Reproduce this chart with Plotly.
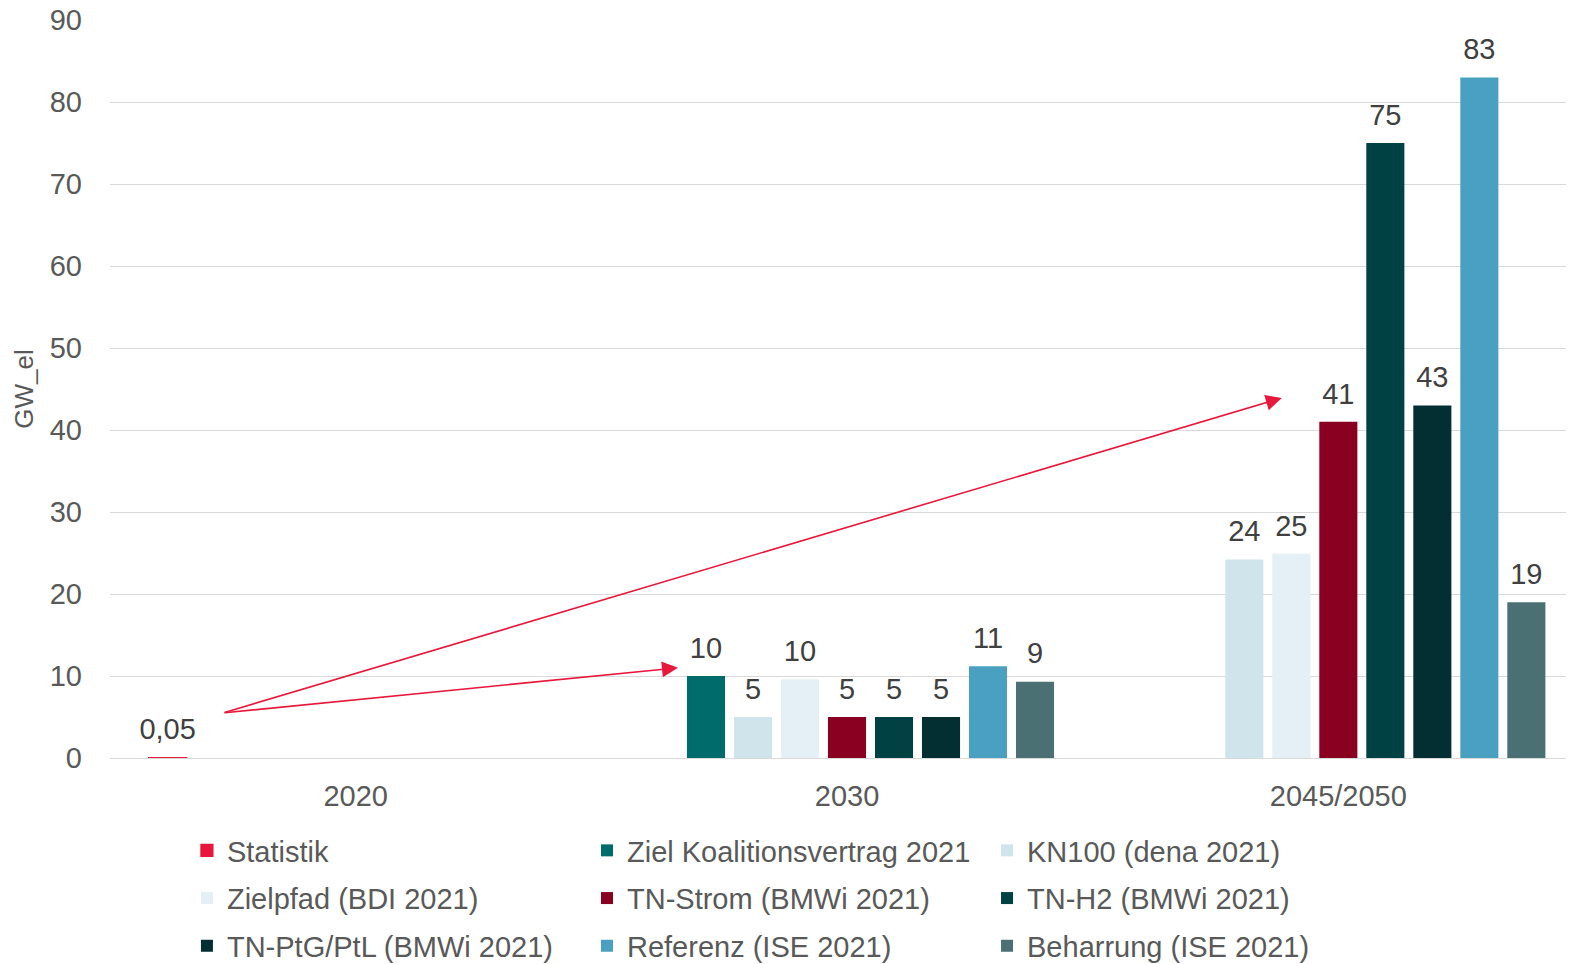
import plotly.graph_objects as go

categories = ["2020", "2030", "2045/2050"]

series_names = [
    "Statistik",
    "Ziel Koalitionsvertrag 2021",
    "KN100 (dena 2021)",
    "Zielpfad (BDI 2021)",
    "TN-Strom (BMWi 2021)",
    "TN-H2 (BMWi 2021)",
    "TN-PtG/PtL (BMWi 2021)",
    "Referenz (ISE 2021)",
    "Beharrung (ISE 2021)",
]

statistik = [0.05, None, None]
ziel_koalition = [None, 10, None]
kn100 = [None, 5, 24.2]
zielpfad = [None, 9.6, 24.9]
tn_strom = [None, 5, 41]
tn_h2 = [None, 5, 75]
tn_ptg = [None, 5, 43]
referenz = [None, 11.2, 83]
beharrung = [None, 9.3, 19]

labels_statistik = ["0,05", "", ""]
labels_ziel = ["", "10", ""]
labels_kn100 = ["", "5", "24"]
labels_zielpfad = ["", "10", "25"]
labels_strom = ["", "5", "41"]
labels_h2 = ["", "5", "75"]
labels_ptg = ["", "5", "43"]
labels_referenz = ["", "11", "83"]
labels_beharrung = ["", "9", "19"]

values = [statistik, ziel_koalition, kn100, zielpfad, tn_strom, tn_h2, tn_ptg, referenz, beharrung]
labels = [labels_statistik, labels_ziel, labels_kn100, labels_zielpfad, labels_strom,
          labels_h2, labels_ptg, labels_referenz, labels_beharrung]
colors = ["#e8173c", "#006b6b", "#cfe5eb", "#e4f0f5", "#8a0020",
          "#004143", "#032e32", "#4aa0c0", "#4a7074"]
legend_of = ["legend", "legend2", "legend3", "legend", "legend2", "legend3",
             "legend", "legend2", "legend3"]

FONT = "Liberation Sans, Arial, sans-serif"
GREY = "#595959"
FS = 29
BARGAP = 0.139

fig = go.Figure()
for i, name in enumerate(series_names):
    fig.add_trace(go.Bar(
        x=categories, y=values[i], name=name,
        offsetgroup=str(i),
        marker=dict(color=colors[i],
                    line=dict(width=1.2 if i == 0 else 0, color=colors[i])),
        legend=legend_of[i], legendgroup=name,
    ))
# value labels (scatter text aligned with the bar slots)
for i, name in enumerate(series_names):
    fig.add_trace(go.Scatter(
        x=categories, y=values[i], text=labels[i],
        offsetgroup=str(i), mode="markers+text", textposition="top center",
        marker=dict(size=16, opacity=0), cliponaxis=False,
        textfont=dict(size=FS, color="#404040", family=FONT),
        showlegend=False, hoverinfo="skip", legend=legend_of[i],
    ))

# arrows: tail near 2020, heads into 2030 and 2045/2050 groups
arrow_tail = (-0.270, 5.5)
arrow_heads = [(0.656, 11.0), (1.885, 43.9)]
for hx, hy in arrow_heads:
    fig.add_annotation(
        x=hx, y=hy, ax=arrow_tail[0], ay=arrow_tail[1],
        xref="x", yref="y", axref="x", ayref="y",
        showarrow=True, arrowhead=2, arrowsize=2.0, arrowwidth=1.6,
        arrowcolor="#e8173c", standoff=0, startstandoff=0, text="",
    )

leg_common = dict(
    orientation="v", yanchor="top", xanchor="left",
    font=dict(size=FS, color=GREY, family=FONT),
    bgcolor="rgba(0,0,0,0)", tracegroupgap=7, itemclick=False,
)

LEG_Y = -0.0908

fig.update_layout(
    width=1580, height=964,
    margin=dict(l=102, r=4, t=12, b=214, autoexpand=False),
    paper_bgcolor="white", plot_bgcolor="white",
    barmode="group", bargap=BARGAP, bargroupgap=0.19,
    scattermode="group", scattergap=BARGAP,
    font=dict(family=FONT, color=GREY, size=FS),
    showlegend=True,
    legend=dict(x=0.0522, y=LEG_Y, **leg_common),
    legend2=dict(x=0.3236, y=LEG_Y, **leg_common),
    legend3=dict(x=0.595, y=LEG_Y, **leg_common),
    xaxis=dict(
        type="category", range=[-0.5, 2.5], showgrid=False,
        showline=False, ticks="", ticklabelstandoff=18,
        tickfont=dict(size=FS, color=GREY, family=FONT),
    ),
    yaxis=dict(
        range=[0, 90], dtick=10, showgrid=True, gridcolor="#d9d9d9", gridwidth=1,
        zeroline=True, zerolinecolor="#d9d9d9", zerolinewidth=1,
        showline=False, ticks="", ticklabelstandoff=27, ticklabeloverflow="allow",
        tickfont=dict(size=FS, color=GREY, family=FONT),
        title=dict(text="GW_el", font=dict(size=26, color=GREY, family=FONT), standoff=8),
    ),
)

fig.write_html("out.html")
